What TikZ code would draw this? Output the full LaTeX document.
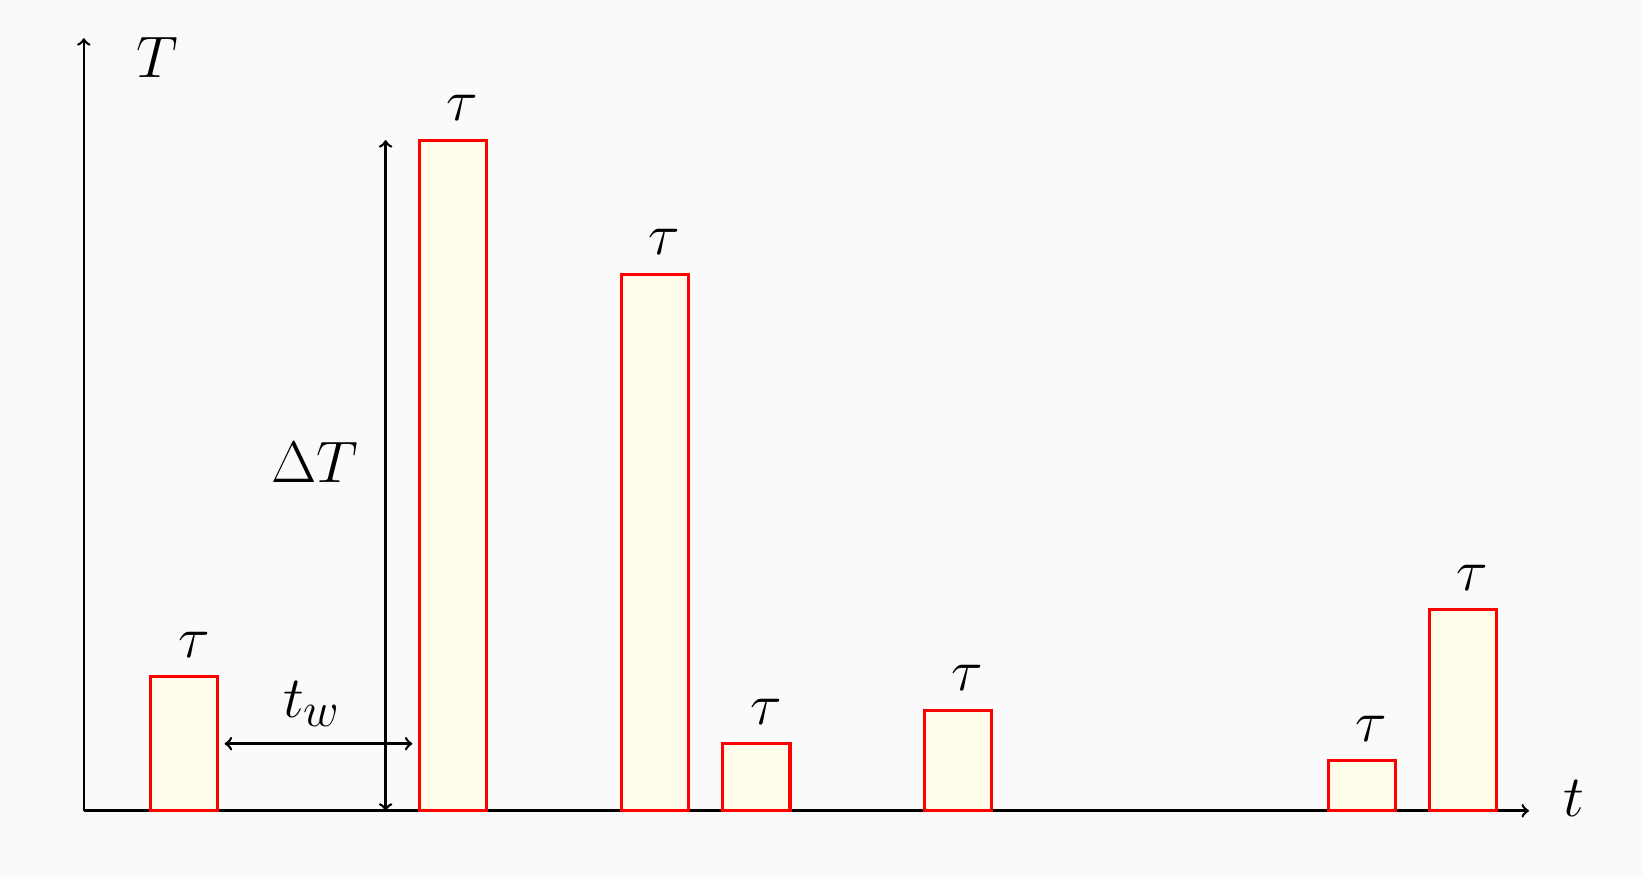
\documentclass[tikz,border=0pt]{standalone}
\definecolor{bgcol}{HTML}{FAFAFA}
\definecolor{barfill}{HTML}{FFFCEA}
\begin{document}
\begin{tikzpicture}[
  lbl/.style={font=\Huge, inner sep=0.32em},
  taulbl/.style={lbl, above, xshift=0.14cm, yshift=0.17cm},
  axisline/.style={line width=1.1pt, -to},
  dimline/.style={line width=1.1pt, to-to},
  bar/.style={draw=red, fill=barfill, line width=1.3pt, inner sep=0pt, outer sep=0pt,
              minimum width=1cm, anchor=south west}
]
\fill[bgcol] (-1.25,-0.99) rectangle (23.25,12.09);
\useasboundingbox (-1.25,-0.99) rectangle (23.25,12.09);

% axes
\coordinate (O) at (0,0);
\coordinate (xend) at (21.55,0);
\coordinate (yend) at (0,11.52);
\draw[axisline] (O) -- (xend);
\draw[axisline] (O) -- (yend);
\node[lbl, anchor=base] (Tlab) at (1.1,10.93) {$T$};
\node[lbl, anchor=base] (tlab) at (22.22,-0.08) {$t$};

% bars
\node[bar, minimum height=2cm]    (b1) at (1,0) {};
\node[bar, minimum height=10cm]   (b2) at (5,0) {};
\node[bar, minimum height=8cm]    (b3) at (8.02,0) {};
\node[bar, minimum height=1cm]    (b4) at (9.53,0) {};
\node[bar, minimum height=1.5cm]  (b5) at (12.54,0) {};
\node[bar, minimum height=0.75cm] (b6) at (18.56,0) {};
\node[bar, minimum height=3cm]    (b7) at (20.06,0) {};

\foreach \b in {b1,b2,b3,b4,b5,b6,b7}{
  \node[taulbl] (tau\b) at (\b.north) {$\tau$};
}

% dimensions
\coordinate (tw1) at (2.1,1);
\coordinate (tw2) at (4.9,1);
\draw[dimline] (tw1) -- (tw2);
\node[lbl, above, yshift=0.14cm] (twlab) at (3.4,1) {$t_w$};

\coordinate (dT1) at (4.5,0);
\coordinate (dT2) at (4.5,10);
\draw[dimline] (dT1) -- (dT2);
\node[lbl] (dTlab) at (3.44,5.19) {$\Delta T$};
\end{tikzpicture}
\end{document}
